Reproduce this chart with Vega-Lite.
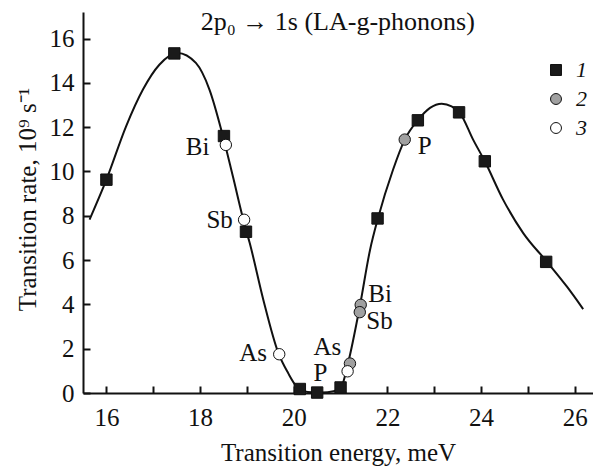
{
  "$schema": "https://vega.github.io/schema/vega-lite/v6.json",
  "width": 510,
  "height": 381,
  "autosize": "none",
  "padding": {"left": 83, "top": 12, "right": 0, "bottom": 73},
  "background": "white",
  "config": {
    "font": "Liberation Serif",
    "view": {"stroke": null},
    "axis": {
      "grid": false,
      "domainColor": "#111",
      "domainWidth": 2,
      "ticks": true,
      "tickColor": "#111",
      "tickWidth": 2,
      "tickOpacity": 1,
      "labelFont": "Liberation Serif",
      "labelFontSize": 25,
      "labelColor": "#111",
      "titleFont": "Liberation Serif",
      "titleFontSize": 25,
      "titleFontWeight": "normal",
      "titleColor": "#111"
    },
    "legend": {
      "orient": "none", "legendX": 462, "legendY": 47, "title": null, "padding": 0,
      "labelFont": "Liberation Serif", "labelFontSize": 22, "labelFontStyle": "italic", "labelColor": "#111",
      "symbolStrokeWidth": 1, "symbolSize": 120,
      "rowPadding": 7, "labelOffset": 9
    }
  },
  "datasets": {
    "curve": [
      {"e": 15.64, "r": 7.83}, {"e": 16.0, "r": 9.63}, {"e": 16.42, "r": 12.04}, {"e": 16.78, "r": 13.7},
      {"e": 17.13, "r": 14.82}, {"e": 17.52, "r": 15.35}, {"e": 17.91, "r": 14.9}, {"e": 18.2, "r": 13.7},
      {"e": 18.49, "r": 11.58}, {"e": 18.7, "r": 9.78}, {"e": 18.95, "r": 7.6}, {"e": 19.06, "r": 6.77},
      {"e": 19.35, "r": 4.21}, {"e": 19.67, "r": 1.81}, {"e": 19.88, "r": 0.9}, {"e": 20.06, "r": 0.3},
      {"e": 20.3, "r": 0.05}, {"e": 20.6, "r": 0.02}, {"e": 20.85, "r": 0.08}, {"e": 21.02, "r": 0.3},
      {"e": 21.16, "r": 1.35}, {"e": 21.41, "r": 3.9}, {"e": 21.63, "r": 6.47}, {"e": 21.8, "r": 7.9},
      {"e": 22.12, "r": 10.08}, {"e": 22.37, "r": 11.44}, {"e": 22.66, "r": 12.34}, {"e": 22.91, "r": 12.87},
      {"e": 23.16, "r": 13.06}, {"e": 23.37, "r": 12.94}, {"e": 23.55, "r": 12.64}, {"e": 23.83, "r": 11.44},
      {"e": 24.08, "r": 10.46}, {"e": 24.47, "r": 8.73}, {"e": 24.9, "r": 7.22}, {"e": 25.4, "r": 5.94},
      {"e": 25.83, "r": 4.81}, {"e": 26.18, "r": 3.79}
    ],
    "points": [
      {"e": 16.0, "r": 9.63, "series": "1"}, {"e": 17.45, "r": 15.33, "series": "1"},
      {"e": 18.51, "r": 11.6, "series": "1"}, {"e": 18.98, "r": 7.28, "series": "1"},
      {"e": 20.13, "r": 0.18, "series": "1"}, {"e": 20.5, "r": 0.02, "series": "1"},
      {"e": 21.0, "r": 0.25, "series": "1"}, {"e": 21.79, "r": 7.88, "series": "1"},
      {"e": 22.65, "r": 12.31, "series": "1"}, {"e": 23.53, "r": 12.67, "series": "1"},
      {"e": 24.08, "r": 10.46, "series": "1"}, {"e": 25.39, "r": 5.92, "series": "1"},
      {"e": 22.37, "r": 11.44, "series": "2"}, {"e": 21.43, "r": 3.98, "series": "2"},
      {"e": 21.41, "r": 3.65, "series": "2"}, {"e": 21.2, "r": 1.33, "series": "2"},
      {"e": 18.55, "r": 11.2, "series": "3"}, {"e": 18.94, "r": 7.82, "series": "3"},
      {"e": 19.69, "r": 1.75, "series": "3"}, {"e": 21.15, "r": 0.98, "series": "3"}
    ],
    "labelsRight": [
      {"e": 18.2, "r": 11.1, "label": "Bi"},
      {"e": 18.7, "r": 7.8, "label": "Sb"},
      {"e": 19.43, "r": 1.8, "label": "As"}
    ],
    "labelsLeft": [
      {"e": 20.42, "r": 2.08, "label": "As"},
      {"e": 20.42, "r": 0.92, "label": "P"},
      {"e": 21.59, "r": 4.46, "label": "Bi"},
      {"e": 21.55, "r": 3.26, "label": "Sb"},
      {"e": 22.65, "r": 11.16, "label": "P"}
    ],
    "heading": [
      {"e": 20.94, "r": 16.4, "label": "2p₀ → 1s (LA-g-phonons)"}
    ]
  },
  "layer": [
    {
      "data": {"name": "curve"},
      "mark": {"type": "line", "interpolate": "monotone", "color": "#111", "strokeWidth": 2},
      "encoding": {
        "x": {
          "field": "e", "type": "quantitative",
          "scale": {"domain": [15.5, 26.39], "nice": false, "zero": false},
          "axis": {
            "orient": "bottom",
            "values": [16, 17, 18, 19, 20, 21, 22, 23, 24, 25, 26],
            "tickSize": -7,
            "labelExpr": "datum.value % 2 === 0 ? datum.label : ''",
            "labelPadding": 19,
            "title": "Transition energy, meV",
            "titleX": 255,
            "titleY": 67,
            "titleBaseline": "alphabetic"
          }
        },
        "y": {
          "field": "r", "type": "quantitative",
          "scale": {"domain": [0, 17.2], "nice": false, "zero": false},
          "axis": {
            "orient": "left",
            "values": [0, 1, 2, 3, 4, 5, 6, 7, 8, 9, 10, 11, 12, 13, 14, 15, 16, 17],
            "tickSize": -7,
            "labelExpr": "datum.value % 2 === 0 ? datum.label : ''",
            "labelPadding": 16,
            "title": "Transition rate, 10⁹ s⁻¹",
            "titleX": -48,
            "titleY": 187,
            "titleBaseline": "alphabetic",
            "titleAlign": "center"
          }
        }
      }
    },
    {
      "data": {"name": "points"},
      "mark": {"type": "point", "filled": true, "strokeWidth": 1, "size": 130, "opacity": 1},
      "encoding": {
        "x": {"field": "e", "type": "quantitative", "scale": {"domain": [15.5, 26.39], "nice": false, "zero": false}},
        "y": {"field": "r", "type": "quantitative", "scale": {"domain": [0, 17.2], "nice": false, "zero": false}},
        "shape": {
          "field": "series", "type": "nominal",
          "scale": {"domain": ["1", "2", "3"], "range": ["square", "circle", "circle"]}
        },
        "fill": {
          "field": "series", "type": "nominal",
          "scale": {"domain": ["1", "2", "3"], "range": ["#1a1a1a", "#a0a0a0", "#ffffff"]}
        },
        "stroke": {
          "field": "series", "type": "nominal",
          "scale": {"domain": ["1", "2", "3"], "range": ["#111111", "#111111", "#111111"]}
        }
      }
    },
    {
      "data": {"name": "labelsRight"},
      "mark": {"type": "text", "align": "right", "baseline": "middle", "font": "Liberation Serif", "fontSize": 25, "color": "#111"},
      "encoding": {
        "x": {"field": "e", "type": "quantitative"},
        "y": {"field": "r", "type": "quantitative"},
        "text": {"field": "label"}
      }
    },
    {
      "data": {"name": "labelsLeft"},
      "mark": {"type": "text", "align": "left", "baseline": "middle", "font": "Liberation Serif", "fontSize": 25, "color": "#111"},
      "encoding": {
        "x": {"field": "e", "type": "quantitative"},
        "y": {"field": "r", "type": "quantitative"},
        "text": {"field": "label"}
      }
    },
    {
      "data": {"name": "heading"},
      "mark": {"type": "text", "align": "center", "baseline": "alphabetic", "font": "Liberation Serif", "fontSize": 26, "color": "#111"},
      "encoding": {
        "x": {"field": "e", "type": "quantitative"},
        "y": {"field": "r", "type": "quantitative"},
        "text": {"field": "label"}
      }
    }
  ]
}
